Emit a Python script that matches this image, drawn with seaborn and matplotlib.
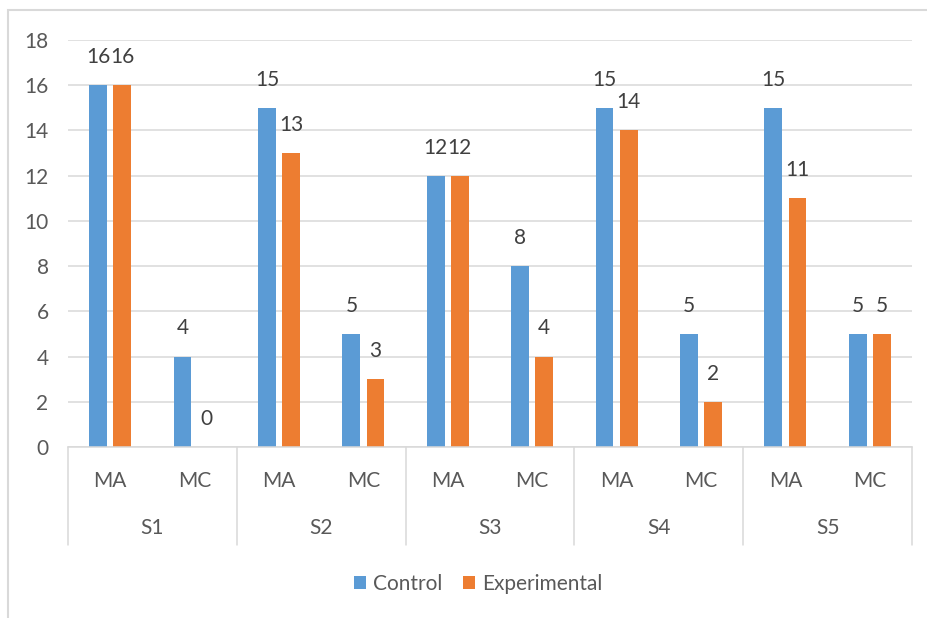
import matplotlib
matplotlib.use("Agg")
import matplotlib.pyplot as plt
import matplotlib.transforms as mtransforms
from matplotlib.patches import Rectangle
import seaborn as sns
import pandas as pd

# ---- data ----
subjects = ["S1", "S2", "S3", "S4", "S5"]
measures = ["MA", "MC"]
control = [16, 4, 15, 5, 12, 8, 15, 5, 15, 5]
experimental = [16, 0, 13, 3, 12, 4, 14, 2, 11, 5]
series_names = ["Control", "Experimental"]
colors = ["#5B9BD5", "#ED7D31"]
yticks = [0, 2, 4, 6, 8, 10, 12, 14, 16, 18]

keys = [f"{s}-{m}" for s in subjects for m in measures]
df = pd.DataFrame({
    "key": keys * 2,
    "value": control + experimental,
    "series": [series_names[0]] * len(keys) + [series_names[1]] * len(keys),
})

sns.set_theme(style="white")
plt.rcParams["font.family"] = ["Lato", "DejaVu Sans"]
TXT = "#595959"
GRID = "#D9D9D9"
FS = 15

fig = plt.figure(figsize=(9.28, 6.18), dpi=100)
ax = fig.add_axes([68 / 928, 1 - 447 / 618, (912 - 68) / 928, (447 - 40) / 618])

sns.barplot(data=df, x="key", y="value", hue="series", order=keys,
            hue_order=series_names, palette=colors, width=0.57, gap=0.26,
            saturation=1, linewidth=0, ax=ax, legend=True)

ax.set_xlim(-0.5, len(keys) - 0.5)
ax.set_ylim(0, 18)
ax.set_yticks(yticks)
ax.set_yticklabels([str(v) for v in yticks], fontsize=FS, color=TXT)
ax.yaxis.grid(True, color=GRID, linewidth=1.1)
ax.set_axisbelow(True)
ax.set_xlabel("")
ax.set_ylabel("")
for side in ["left", "right", "top"]:
    ax.spines[side].set_visible(False)
ax.spines["bottom"].set_color(GRID)
ax.spines["bottom"].set_linewidth(1.1)
ax.tick_params(axis="y", length=0, pad=14)
ax.tick_params(axis="x", length=0, pad=17)
ax.set_xticks(range(len(keys)))
ax.set_xticklabels([k.split("-")[1] for k in keys], fontsize=FS, color=TXT)

for cont in ax.containers:
    ax.bar_label(cont, fmt="%g", padding=13, fontsize=FS, color="#404040")

# group labels and separators
trans = mtransforms.blended_transform_factory(ax.transData, ax.transAxes)
nm = len(measures)
for i, s in enumerate(subjects):
    center = i * nm + (nm - 1) / 2
    ax.annotate(s, xy=(center, 0), xycoords=trans, xytext=(0, -81 * 0.72),
                textcoords="offset points", ha="center", va="center",
                fontsize=FS, color=TXT, annotation_clip=False)
sep_len = 98 / 407
for i in range(len(subjects) + 1):
    x = i * nm - 0.5
    ax.plot([x, x], [0, -sep_len], transform=trans, color=GRID,
            linewidth=1.1, clip_on=False)

sns.move_legend(ax, "center", bbox_to_anchor=(478 / 928, 1 - 584 / 618),
                bbox_transform=fig.transFigure, ncol=2, frameon=False,
                title=None, fontsize=FS, handlelength=0.6, handleheight=0.6,
                handletextpad=0.3, columnspacing=1.0)
for t in ax.get_legend().get_texts():
    t.set_color(TXT)

# outer chart border
fig.patches.append(Rectangle((8 / 928, -0.1), 2, 1 - 10 / 618 + 0.1,
                             transform=fig.transFigure, fill=False,
                             edgecolor=GRID, linewidth=1.5))

fig.savefig("out.png", dpi=100)
